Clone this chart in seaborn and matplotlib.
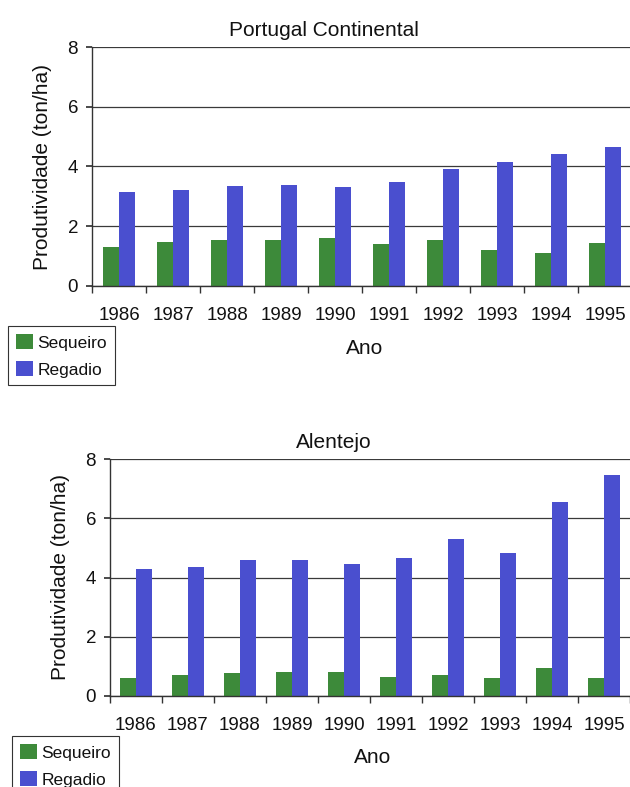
import numpy as np
import pandas as pd
import matplotlib
matplotlib.use("Agg")
import matplotlib.pyplot as plt
import seaborn as sns

anos = ["1986", "1987", "1988", "1989", "1990", "1991", "1992", "1993", "1994", "1995"]
series = ["Sequeiro", "Regadio"]
pc_sequeiro = [1.30, 1.47, 1.54, 1.55, 1.60, 1.42, 1.55, 1.20, 1.12, 1.45]
pc_regadio = [3.15, 3.22, 3.36, 3.38, 3.30, 3.47, 3.92, 4.15, 4.43, 4.65]
al_sequeiro = [0.62, 0.70, 0.78, 0.80, 0.80, 0.65, 0.72, 0.60, 0.95, 0.62]
al_regadio = [4.28, 4.35, 4.58, 4.58, 4.45, 4.66, 5.30, 4.83, 6.55, 7.45]
titulos = ["Portugal Continental", "Alentejo"]
yticks = [0, 2, 4, 6, 8]
cores = {"Sequeiro": "#3d8a3a", "Regadio": "#4a4fcf"}

sns.set_theme(style="white")
plt.rcParams["font.family"] = ["Liberation Sans", "DejaVu Sans"]
plt.rcParams["text.color"] = "#111111"
plt.rcParams["axes.labelcolor"] = "#111111"
plt.rcParams["xtick.color"] = "#111111"
plt.rcParams["ytick.color"] = "#111111"

W, H = 630, 787
fig = plt.figure(figsize=(W / 100, H / 100), dpi=100)

def make_df(seq, reg):
    return pd.DataFrame({
        "Ano": anos * 2,
        "Tipo": [series[0]] * len(anos) + [series[1]] * len(anos),
        "Valor": list(seq) + list(reg),
    })

# pixel boxes: left, top(8), bottom(0), right
boxes = [(92, 47, 286, 632), (110, 459, 696, 630)]
legend_pos = [(8, 326), (12, 736)]
datas = [(pc_sequeiro, pc_regadio), (al_sequeiro, al_regadio)]

for i in range(2):
    l, t, b, r = boxes[i]
    ax = fig.add_axes([l / W, 1 - b / H, (r - l) / W, (b - t) / H])
    df = make_df(*datas[i])
    sns.barplot(data=df, x="Ano", y="Valor", hue="Tipo", palette=cores,
                width=0.6, ax=ax, legend=True, saturation=1)
    for p in ax.patches:
        p.set_edgecolor("none")
    ax.set_ylim(0, 8)
    ax.set_xlim(-0.5, len(anos) - 0.5)
    ax.set_yticks(yticks)
    ax.set_yticklabels([str(v) for v in yticks], fontsize=13.5)
    ax.grid(axis="y", color="#3a3a3a", linewidth=0.9)
    ax.grid(axis="x", visible=False)
    ax.set_axisbelow(True)
    for s in ["top", "right"]:
        ax.spines[s].set_visible(False)
    for s in ["left", "bottom"]:
        ax.spines[s].set_color("#333333")
        ax.spines[s].set_linewidth(1.0)
    ax.tick_params(axis="y", which="major", left=True, length=4, color="#333333", pad=6)
    ax.set_xticks(range(len(anos)))
    ax.set_xticklabels(anos, fontsize=13.5)
    ax.set_xticks(np.arange(-0.5, len(anos), 1.0), minor=True)
    ax.tick_params(axis="x", which="major", length=0, pad=15)
    ax.tick_params(axis="x", which="minor", bottom=True, length=5, color="#333333")
    ax.set_xlabel("Ano", fontsize=15)
    ax.xaxis.set_label_coords(0.504, -0.22)
    ax.set_ylabel("Produtividade (ton/ha)", fontsize=15, labelpad=11)
    ax.set_title(titulos[i], fontsize=15, x=0.43, pad=8)
    h, lab = ax.get_legend_handles_labels()
    ax.legend_.remove()
    lx, ly = legend_pos[i]
    leg = fig.legend(h, lab, loc="upper left", bbox_to_anchor=(lx / W, 1 - ly / H),
                     bbox_transform=fig.transFigure, borderaxespad=0, fancybox=False,
                     edgecolor="#333333", fontsize=12.5, handlelength=1.0, handleheight=1.0,
                     handletextpad=0.25, borderpad=0.45, labelspacing=0.6, framealpha=1)
    leg.get_frame().set_linewidth(0.8)

fig.savefig("out.png", dpi=100)
